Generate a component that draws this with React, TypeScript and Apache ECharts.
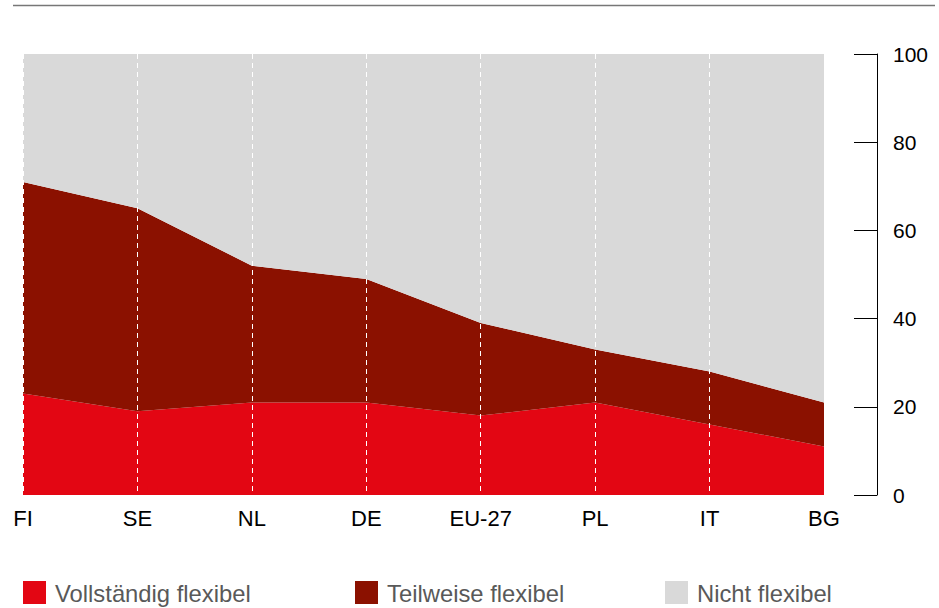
import React, { useEffect, useRef } from "react";
import * as echarts from "echarts";

const categories = ["FI", "SE", "NL", "DE", "EU-27", "PL", "IT", "BG"];
const vollstaendig = [23, 19, 21, 21, 18, 21, 16, 11];
const teilweise = [48, 46, 31, 28, 21, 12, 12, 10];
const nicht = [29, 35, 48, 51, 61, 67, 72, 79];
const yTicks = [0, 20, 40, 60, 80, 100];
const legendNames = ["Vollständig flexibel", "Teilweise flexibel", "Nicht flexibel"];

const COLORS = ["#e30613", "#8b1100", "#d9d9d9"];
const FONT = "'Liberation Sans', Arial, Helvetica, sans-serif";

export default function App() {
  const ref = useRef<HTMLDivElement>(null);
  useEffect(() => {
    document.body.style.margin = "0";
    if (!ref.current) return;
    const chart = echarts.init(ref.current, undefined, { renderer: "svg" });
    const seriesData = [vollstaendig, teilweise, nicht];
    const legendX = [23, 355, 665];
    const graphic: any[] = [
      {
        type: "line",
        shape: { x1: 13, y1: 5.5, x2: 935, y2: 5.5 },
        style: { stroke: "#777777", lineWidth: 1.5 },
      },
    ];
    legendNames.forEach((n, i) => {
      graphic.push({
        type: "rect",
        shape: { x: legendX[i], y: 581, width: 23, height: 23 },
        style: { fill: COLORS[i] },
      });
      graphic.push({
        type: "text",
        x: legendX[i] + 32,
        y: 593,
        style: {
          text: n,
          fill: "#595959",
          font: `23.8px ${FONT}`,
          verticalAlign: "middle",
          align: "left",
        },
      });
    });
    chart.setOption({
      animation: false,
      backgroundColor: "#ffffff",
      textStyle: { fontFamily: FONT },
      grid: { left: 23, right: 115, top: 54, bottom: 113, containLabel: false },
      xAxis: {
        type: "category",
        data: categories,
        boundaryGap: false,
        z: 10,
        axisLine: { show: false },
        axisTick: { show: false },
        axisLabel: { color: "#000000", fontSize: 22, margin: 12, fontFamily: FONT },
        splitLine: {
          show: true,
          lineStyle: { color: "#ffffff", type: [5, 4], width: 1 },
        },
      },
      yAxis: {
        type: "value",
        position: "right",
        offset: 53,
        min: yTicks[0],
        max: yTicks[yTicks.length - 1],
        interval: 20,
        axisLine: { show: true, lineStyle: { color: "#000000", width: 1 } },
        axisTick: { show: true, inside: true, length: 23, lineStyle: { color: "#000000", width: 1 } },
        axisLabel: { color: "#000000", fontSize: 21, margin: 16, fontFamily: FONT },
        splitLine: { show: false },
      },
      series: legendNames.map((n, i) => ({
        name: n,
        type: "line",
        stack: "total",
        data: seriesData[i],
        symbol: "none",
        lineStyle: { width: 0 },
        areaStyle: { color: COLORS[i], opacity: 1 },
        itemStyle: { color: COLORS[i] },
        z: 2,
      })),
      graphic,
    });
    return () => chart.dispose();
  }, []);
  return <div ref={ref} style={{ width: 939, height: 608 }} />;
}
